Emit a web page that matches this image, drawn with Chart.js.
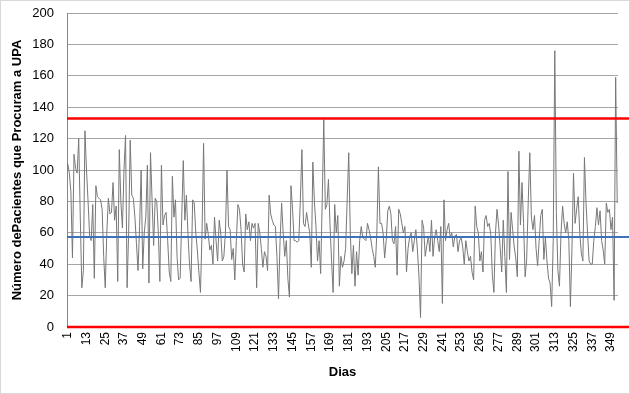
<!DOCTYPE html>
<html>
<head>
<meta charset="utf-8">
<script src="https://cdn.jsdelivr.net/npm/chart.js@4.4.1/dist/chart.umd.min.js"></script>
<style>
  html, body { margin: 0; padding: 0; background: #fff; }
  .frame { position: relative; width: 630px; height: 394px; }
  .frame::after {
    content: "";
    position: absolute;
    inset: 0;
    border: 1px solid #d9d9d9;
    pointer-events: none;
  }
  canvas { display: block; }
</style>
</head>
<body>
<div class="frame"><canvas id="chart" width="630" height="394"></canvas></div>
<script>
// daily counts, day 1 .. 353
const patients = [
  104, 98, 86, 44, 110, 101, 98, 120, 70, 25,
  36, 125, 100, 80, 58, 55, 78, 31, 90, 83,
  82, 81, 75, 45, 25, 60, 82, 72, 73, 92,
  68, 77, 29, 113, 80, 63, 100, 122, 25, 60,
  119, 84, 82, 70, 53, 36, 64, 100, 37, 60,
  70, 103, 28, 111, 81, 52, 82, 80, 60, 29,
  103, 65, 71, 73, 55, 35, 29, 96, 70, 81,
  45, 30, 31, 70, 106, 68, 84, 59, 40, 29,
  81, 79, 60, 49, 35, 22, 60, 117, 56, 66,
  59, 49, 52, 40, 70, 55, 42, 68, 60, 42,
  45, 60, 100, 64, 62, 43, 50, 30, 55, 78,
  75, 62, 40, 35, 72, 62, 67, 55, 66, 63,
  66, 25, 66, 60, 50, 38, 48, 45, 36, 84,
  72, 68, 65, 64, 45, 18, 55, 79, 60, 45,
  55, 31, 19, 90, 75, 55, 55, 54, 55, 81,
  113, 66, 64, 73, 66, 60, 38, 105, 80, 64,
  42, 55, 34, 80, 132, 75, 78, 94, 65, 42,
  22, 78, 60, 71, 26, 45, 38, 42, 50, 81,
  111, 60, 34, 52, 26, 48, 33, 55, 64, 57,
  56, 55, 66, 62, 57, 50, 45, 38, 60, 102,
  66, 66, 60, 44, 55, 74, 77, 72, 55, 53,
  64, 33, 75, 72, 66, 60, 64, 35, 50, 57,
  60, 48, 55, 62, 49, 32, 6, 68, 63, 45,
  52, 58, 48, 68, 45, 57, 62, 55, 48, 64,
  15, 81, 55, 62, 66, 57, 60, 51, 58, 59,
  48, 55, 57, 51, 40, 55, 48, 42, 45, 35,
  30, 77, 64, 60, 42, 48, 35, 68, 71, 64,
  66, 59, 33, 22, 60, 75, 65, 51, 35, 68,
  45, 22, 99, 43, 73, 62, 51, 44, 32, 112,
  65, 92, 66, 32, 43, 80, 111, 70, 62, 71,
  50, 39, 55, 71, 75, 43, 57, 42, 31, 28,
  13, 55, 176, 73, 36, 26, 60, 77, 66, 60,
  67, 55, 13, 50, 98, 66, 75, 83, 60, 47,
  42, 108, 79, 60, 42, 40, 40, 55, 64, 76,
  65, 74, 55, 49, 40, 79, 73, 75, 62, 70,
  17, 159, 79,
];
const days = patients.map((_, i) => String(i + 1));
const labelEvery = 12;

const yMin = 0;
const yMax = 200;
const yStep = 20;

// control limits
const upperLimit = 132.8;
const meanLine = 57.3;
const lowerLimit = 0;

const limitLines = [
  { value: upperLimit, color: "#ff0000", width: 2.6 },
  { value: meanLine, color: "#3e72b8", width: 2 },
  { value: lowerLimit, color: "#ff0000", width: 2.6 },
];

const fontFamily = "'Liberation Sans', Arial, sans-serif";

const controlLines = {
  id: "controlLines",
  afterDatasetsDraw(chart) {
    const { ctx, chartArea, scales } = chart;
    ctx.save();
    limitLines.forEach((l) => {
      const y = scales.y.getPixelForValue(l.value);
      ctx.beginPath();
      ctx.strokeStyle = l.color;
      ctx.lineWidth = l.width;
      ctx.moveTo(chartArea.left, y);
      ctx.lineTo(chart.width - 1, y);
      ctx.stroke();
    });
    ctx.restore();
  },
};

new Chart(document.getElementById("chart").getContext("2d"), {
  type: "line",
  data: {
    labels: days,
    datasets: [{
      data: patients,
      borderColor: "#787878",
      borderWidth: 1,
      pointRadius: 0,
      tension: 0,
      fill: false,
    }],
  },
  options: {
    responsive: false,
    animation: false,
    devicePixelRatio: 1,
    layout: { padding: { left: 6, right: 12, top: 13, bottom: 10 } },
    plugins: {
      legend: { display: false },
      tooltip: { enabled: false },
    },
    scales: {
      x: {
        type: "category",
        offset: true,
        grid: { display: false, drawTicks: false },
        border: { display: true, color: "#868686" },
        ticks: {
          autoSkip: false,
          minRotation: 90,
          maxRotation: 90,
          padding: 5,
          color: "#000",
          font: { family: fontFamily, size: 12 },
          callback: (v, i) => (i % labelEvery === 0 ? days[i] : ""),
        },
        title: {
          display: true,
          text: "Dias",
          color: "#000",
          font: { family: fontFamily, size: 13, weight: "bold" },
        },
        afterFit: (scale) => {
          scale.height = 57;
          scale.paddingLeft = 0;
          scale.paddingRight = 0;
        },
      },
      y: {
        min: yMin,
        max: yMax,
        grid: { color: "#a6a6a6", lineWidth: 1, drawTicks: false },
        border: { display: true, color: "#868686" },
        ticks: {
          stepSize: yStep,
          padding: 13,
          color: "#000",
          font: { family: fontFamily, size: 13 },
        },
        title: {
          display: true,
          text: "Número dePacientes que Procuram a UPA",
          color: "#000",
          font: { family: fontFamily, size: 13, weight: "bold" },
        },
        afterFit: (scale) => {
          scale.width = 61;
          scale.paddingTop = 0;
          scale.paddingBottom = 0;
        },
      },
    },
  },
  plugins: [controlLines],
});
</script>
</body>
</html>
